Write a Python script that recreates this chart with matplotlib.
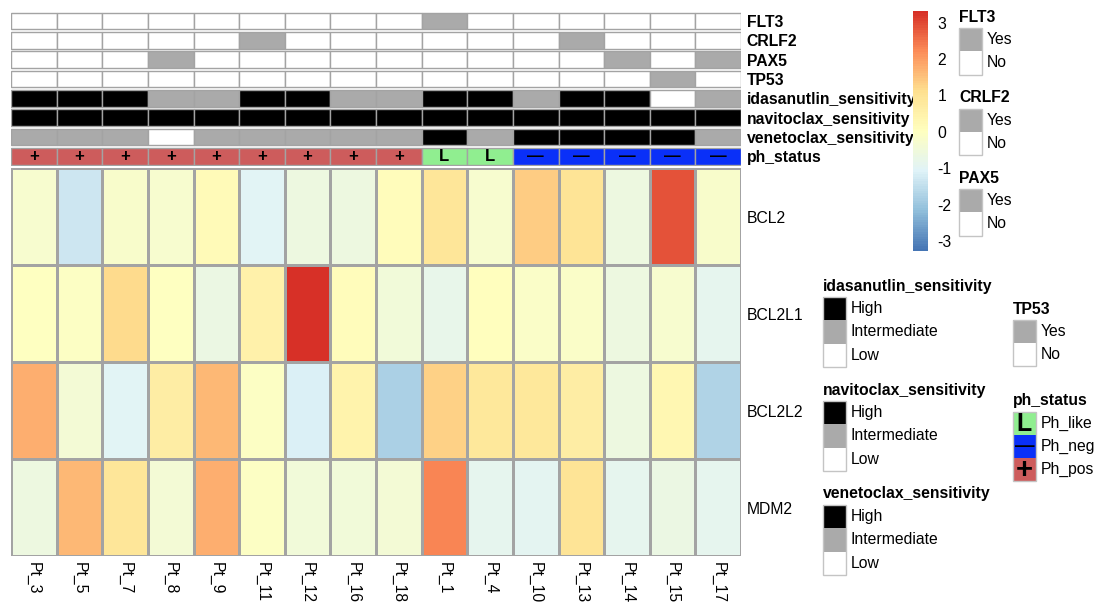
import numpy as np
import matplotlib
matplotlib.use("Agg")
import matplotlib.pyplot as plt
from matplotlib.colors import LinearSegmentedColormap
from matplotlib.patches import Rectangle

plt.rcParams['font.family'] = ['Liberation Sans', 'DejaVu Sans']

# ---------------- data ----------------
patients = ["Pt_3", "Pt_5", "Pt_7", "Pt_8", "Pt_9", "Pt_11", "Pt_12", "Pt_16", "Pt_18",
            "Pt_1", "Pt_4", "Pt_10", "Pt_13", "Pt_14", "Pt_15", "Pt_17"]
genes = ["BCL2", "BCL2L1", "BCL2L2", "MDM2"]

bcl2 =   [-0.3, -1.3, -0.2, -0.3, 0.2, -1.0, -0.6, -0.6, 0.1, 0.9, -0.3, 1.4, 1.0, -0.6, 2.9, -0.2]
bcl2l1 = [0.0, -0.1, 1.2, 0.0, -0.65, 0.5, 3.3, 0.1, -0.5, -0.8, 0.05, -0.15, -0.15, -0.6, -0.3, -0.85]
bcl2l2 = [1.8, -0.4, -1.0, 0.65, 1.65, -0.1, -1.1, 0.45, -1.8, 1.3, 0.85, 0.85, 0.65, -0.6, 0.35, -1.7]
mdm2 =   [-0.6, 1.65, 0.9, -0.4, 1.75, -0.1, -0.5, -0.5, -0.4, 2.3, -0.85, -0.95, 1.0, -0.85, -0.65, -0.85]

flt3 =  ["No"] * 9 + ["Yes"] + ["No"] * 6
crlf2 = ["No", "No", "No", "No", "No", "Yes", "No", "No", "No", "No", "No", "No", "Yes", "No", "No", "No"]
pax5 =  ["No", "No", "No", "Yes", "No", "No", "No", "No", "No", "No", "No", "No", "No", "Yes", "No", "Yes"]
tp53 =  ["No"] * 14 + ["Yes", "No"]
idasanutlin = ["High", "High", "High", "Intermediate", "Intermediate", "High", "High", "Intermediate",
               "Intermediate", "High", "High", "Intermediate", "High", "High", "Low", "Intermediate"]
navitoclax = ["High"] * 16
venetoclax = ["Intermediate", "Intermediate", "Intermediate", "Low", "Intermediate", "Intermediate",
              "Intermediate", "Intermediate", "Intermediate", "High", "Intermediate", "High", "High",
              "High", "High", "Intermediate"]
ph_status = ["Ph_pos"] * 9 + ["Ph_like"] * 2 + ["Ph_neg"] * 5

ann_names = ["FLT3", "CRLF2", "PAX5", "TP53", "idasanutlin_sensitivity",
             "navitoclax_sensitivity", "venetoclax_sensitivity", "ph_status"]
ann_values = [flt3, crlf2, pax5, tp53, idasanutlin, navitoclax, venetoclax, ph_status]

yn_colors = {"Yes": "#AAAAAA", "No": "#FFFFFF"}
sens_colors = {"High": "#000000", "Intermediate": "#AAAAAA", "Low": "#FFFFFF"}
ph_colors = {"Ph_like": "#90EE90", "Ph_neg": "#0A30F8", "Ph_pos": "#CD5C5C"}
ph_symbols = {"Ph_like": "L", "Ph_neg": "\u2014", "Ph_pos": "+"}
ann_colors = [yn_colors, yn_colors, yn_colors, yn_colors, sens_colors, sens_colors, sens_colors, ph_colors]

cbar_ticks = [-3, -2, -1, 0, 1, 2, 3]
vmin, vmax = -3.27, 3.32
pal = ["#4575B4", "#91BFDB", "#E0F3F8", "#FFFFBF", "#FEE090", "#FC8D59", "#D73027"]

# ---------------- figure ----------------
W, H = 1099, 602
fig = plt.figure(figsize=(W / 100, H / 100), dpi=100)
FS = 11.3
border = "#A3A3A3"


def add_ax(x0, y0, x1, y1):
    return fig.add_axes([x0 / W, 1 - y1 / H, (x1 - x0) / W, (y1 - y0) / H])


cmap = LinearSegmentedColormap.from_list("rdylbu7", pal, N=100)

# heatmap
hax = add_ax(11, 168, 741, 556)
mat = np.array([bcl2, bcl2l1, bcl2l2, mdm2])
mesh = hax.pcolormesh(np.arange(len(patients) + 1) - 0.5, np.arange(len(genes) + 1) - 0.5, mat,
                      cmap=cmap, vmin=vmin, vmax=vmax, edgecolors=border, linewidth=1.0)
hax.set_xlim(-0.5, len(patients) - 0.5)
hax.set_ylim(len(genes) - 0.5, -0.5)
for s in hax.spines.values():
    s.set_visible(False)
hax.set_xticks(np.arange(len(patients)))
hax.set_xticklabels(patients, rotation=270, fontsize=FS, va="top", ha="center")
hax.set_yticks(np.arange(len(genes)))
hax.set_yticklabels(genes, fontsize=FS)
hax.yaxis.tick_right()
hax.tick_params(length=0, pad=4)
hax.tick_params(axis="x", pad=4)

# annotation block
aax = add_ax(11, 11.5, 741, 166)
for i, (vals, cmapd) in enumerate(zip(ann_values, ann_colors)):
    aax.bar(np.arange(len(patients)), 0.86, bottom=i + 0.07, width=1.0,
            color=[cmapd[v] for v in vals], edgecolor=border, linewidth=1.0)
for j, v in enumerate(ph_status):
    aax.text(j, len(ann_names) - 0.5, ph_symbols[v], ha="center", va="center",
             fontsize=12, fontweight="bold", color="black")
aax.set_xlim(-0.5, len(patients) - 0.5)
aax.set_ylim(len(ann_names), 0)
for s in aax.spines.values():
    s.set_visible(False)
aax.set_xticks([])
aax.set_yticks(np.arange(len(ann_names)) + 0.5)
aax.set_yticklabels(ann_names, fontsize=FS, fontweight="bold")
aax.yaxis.tick_right()
aax.tick_params(length=0, pad=4)

# colorbar
cax = add_ax(913, 11, 928, 251)
cb = fig.colorbar(mesh, cax=cax, ticks=cbar_ticks)
cb.outline.set_visible(False)
cax.tick_params(length=0, labelsize=FS, pad=7)
cax.set_yticklabels([str(t) for t in cbar_ticks])

# legends
lax = fig.add_axes([0, 0, 1, 1])
lax.set_xlim(0, W)
lax.set_ylim(H, 0)
lax.axis("off")
SW, SH = 23, 23.3
sym_sizes = {"L": 18, "+": 21, "\u2014": 14}


def legend_block(x, y_title, y_start, title, mapping, symbols=None):
    lax.text(x, y_title, title, fontsize=FS, fontweight="bold", va="center", ha="left")
    for k, (lab, col) in enumerate(mapping.items()):
        y = y_start + k * SH
        lax.add_patch(Rectangle((x, y), SW, SH, facecolor=col, edgecolor="none"))
        if symbols is not None:
            sym = symbols[lab]
            lax.text(x + SW / 2, y + SH / 2 + 0.5, sym, fontsize=sym_sizes[sym], fontweight="bold",
                     ha="center", va="center")
        lax.text(x + SW + 5, y + SH / 2, lab, fontsize=FS, va="center", ha="left")
    lax.add_patch(Rectangle((x, y_start), SW, SH * len(mapping), facecolor="none",
                            edgecolor="#C4C4C4", linewidth=1.0))


legend_block(959, 17, 28, "FLT3", yn_colors)
legend_block(959, 97.5, 108.5, "CRLF2", yn_colors)
legend_block(959, 178.5, 189, "PAX5", yn_colors)
legend_block(823, 286, 297, "idasanutlin_sensitivity", sens_colors)
legend_block(823, 390, 401, "navitoclax_sensitivity", sens_colors)
legend_block(823, 493.5, 505, "venetoclax_sensitivity", sens_colors)
legend_block(1013, 309, 319.5, "TP53", yn_colors)
legend_block(1013, 401, 411.5, "ph_status", ph_colors, ph_symbols)

fig.savefig("out.png", dpi=100)
